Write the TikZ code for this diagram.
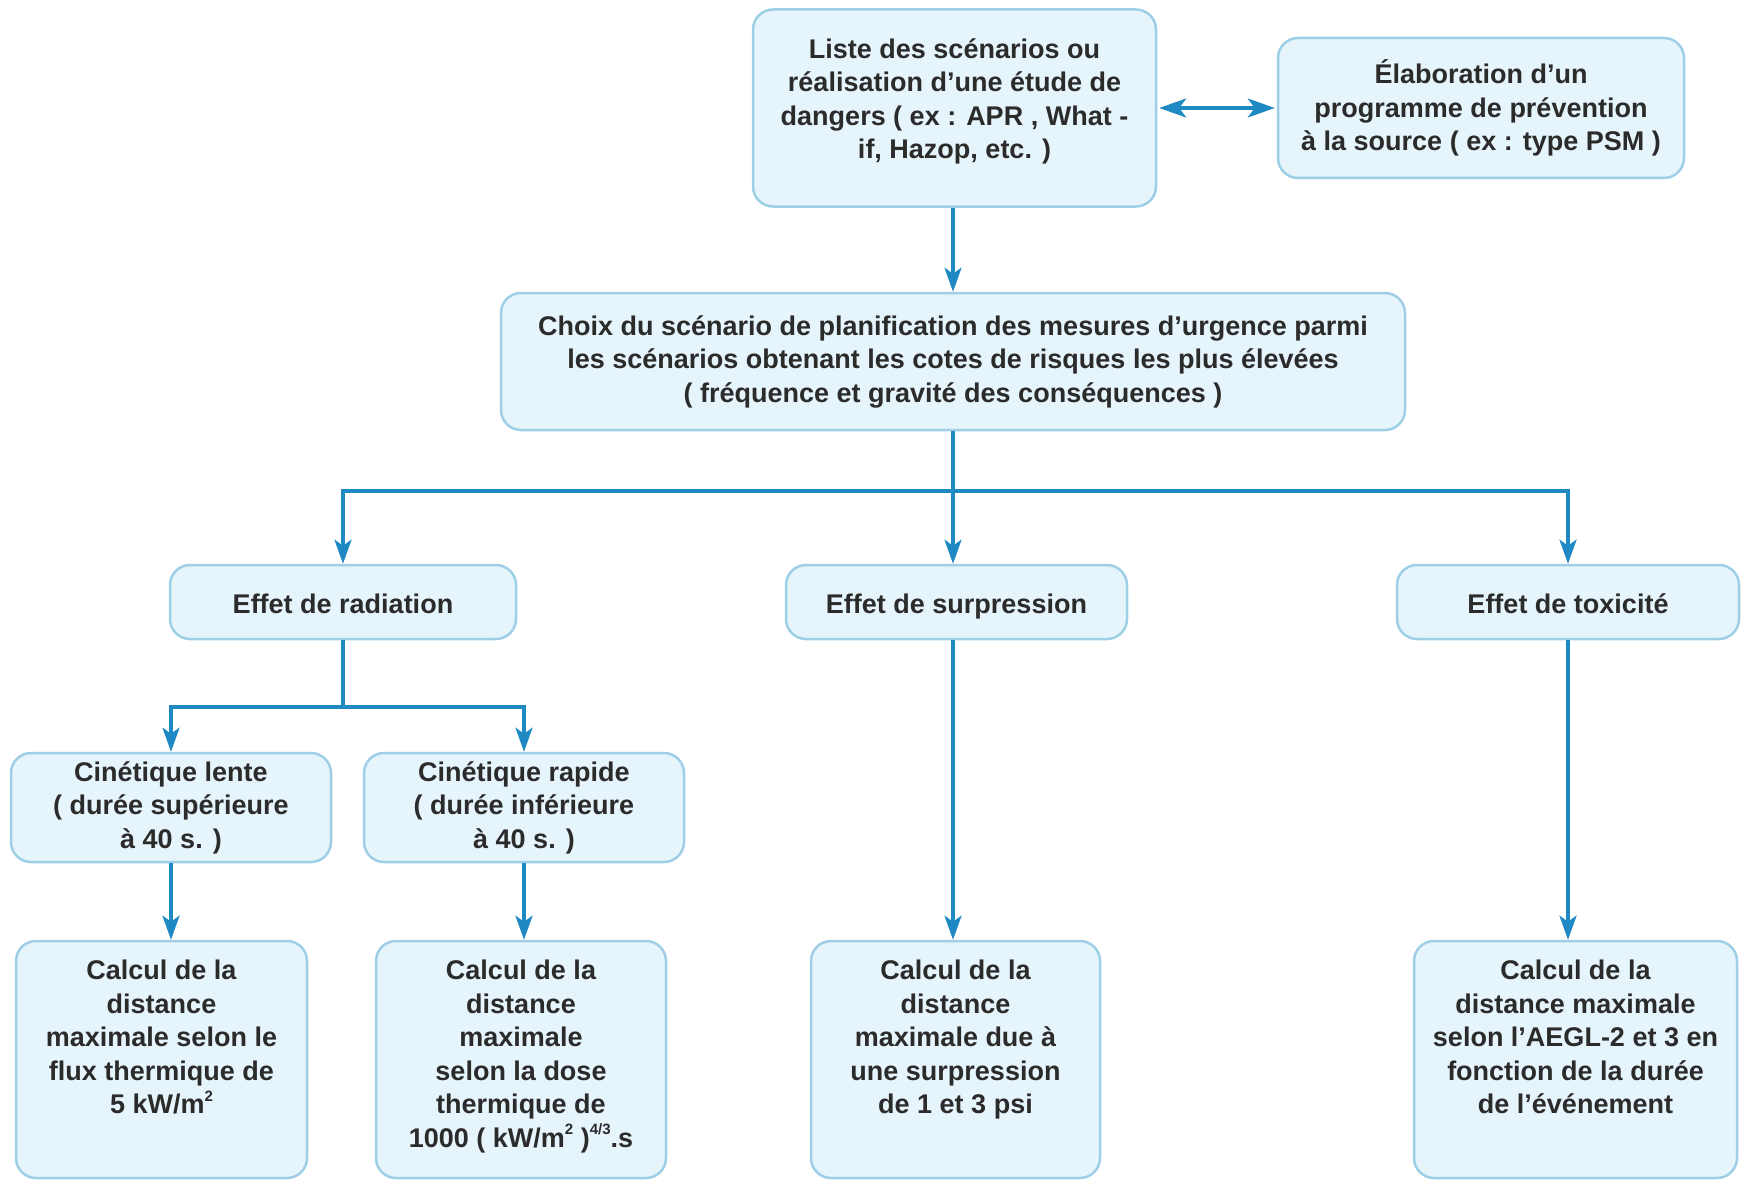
\documentclass[tikz,border=0pt]{standalone}
\usepackage{fontspec}
\setmainfont{Liberation Sans}
\usetikzlibrary{arrows.meta}
\definecolor{boxfill}{HTML}{E6F4FB}
\definecolor{boxline}{HTML}{9ECFE6}
\definecolor{connc}{HTML}{1F89C4}
\definecolor{txtc}{HTML}{2B2B2B}
\newcommand\mysup[1]{\raisebox{0.45em}{\fontsize{15}{15}\selectfont #1}}
\begin{document}
\begin{tikzpicture}[x=1pt,y=-1pt,
  box/.style={draw=boxline, line width=2.5pt, fill=boxfill, rounded corners=20pt, inner sep=0pt,
    text=txtc, font=\fontsize{27}{33.5}\selectfont\bfseries, align=center},
  effbox/.style={box, minimum height=74pt, text height=24pt, text depth=2pt},
  lbl/.style={text=txtc, font=\fontsize{27}{33.5}\selectfont\bfseries, align=center, inner sep=0pt, anchor=north},
  conn/.style={draw=connc, line width=3.5pt},
  arr/.style={conn, -{Stealth[length=24pt,width=17pt,inset=6pt]}},
  darr/.style={conn, {Stealth[length=27pt,width=19pt,inset=7pt]}-{Stealth[length=27pt,width=19pt,inset=7pt]}, shorten <=2pt, shorten >=2pt},
]
\useasboundingbox (0,0) rectangle (1746,1180);

% boxes
\node[box, minimum width=403pt, minimum height=197pt] (liste) at (954.5,108) {};
\node[lbl] (listeT) at ([yshift=-30pt]liste.north)
  {Liste des scénarios ou\\réalisation d’une étude de\\dangers ( ex : APR , What -\\if, Hazop, etc. )};
\node[box, minimum width=406pt, minimum height=140pt] (elab) at (1481,108)
  {Élaboration d’un\\programme de prévention\\à la source ( ex : type PSM )};
\node[box, minimum width=904pt, minimum height=137pt] (choix) at (953,361.5)
  {Choix du scénario de planification des mesures d’urgence parmi\\les scénarios obtenant les cotes de risques les plus élevées\\( fréquence et gravité des conséquences )};

\node[effbox, minimum width=346pt] (rad) at (343,602) {Effet de radiation};
\node[effbox, minimum width=341pt] (surp) at (956.5,602) {Effet de surpression};
\node[effbox, minimum width=342pt] (tox) at (1568,602) {Effet de toxicité};

\node[box, minimum width=320pt, minimum height=109pt] (lente) at (171,807.5)
  {Cinétique lente\\( durée supérieure\\à 40 s. )};
\node[box, minimum width=320pt, minimum height=109pt] (rapide) at (524,807.5)
  {Cinétique rapide\\( durée inférieure\\à 40 s. )};

\node[box, minimum width=291pt, minimum height=237pt] (calcA) at (161.5,1059.5) {};
\node[box, minimum width=290pt, minimum height=237pt] (calcB) at (521,1059.5) {};
\node[box, minimum width=289pt, minimum height=237pt] (calcC) at (955.5,1059.5) {};
\node[box, minimum width=323pt, minimum height=237pt] (calcD) at (1575.5,1059.5) {};

\node[lbl] (calcAT) at ([yshift=-20pt]calcA.north)
  {Calcul de la\\distance\\maximale selon le\\flux thermique de\\5 kW/m\mysup{2}};
\node[lbl] (calcBT) at ([yshift=-20pt]calcB.north)
  {Calcul de la\\distance\\maximale\\selon la dose\\thermique de\\1000 ( kW/m\mysup{2} )\mysup{4/3}.s};
\node[lbl] (calcCT) at ([yshift=-20pt]calcC.north)
  {Calcul de la\\distance\\maximale due à\\une surpression\\de 1 et 3 psi};
\node[lbl] (calcDT) at ([yshift=-20pt]calcD.north)
  {Calcul de la\\distance maximale\\selon l'AEGL-2 et 3 en\\fonction de la durée\\de l'événement};

% connectors
\draw[darr] (liste.east) -- (elab.west);
\draw[arr] (liste.south -| choix.north) -- (choix.north);

\coordinate (jL) at (rad.north |- 0,491);
\coordinate (jM) at (choix.south |- 0,491);
\coordinate (jR) at (tox.north |- 0,491);
\draw[conn] (choix.south) -- (jM);
\draw[conn, line cap=rect] (jL) -- (jR);
\draw[arr] (jL) -- (rad.north);
\draw[arr] (jM) -- (jM |- surp.north);
\draw[arr] (jR) -- (tox.north);

\coordinate (kL) at (lente.north |- 0,707);
\coordinate (kM) at (rad.south |- 0,707);
\coordinate (kR) at (rapide.north |- 0,707);
\draw[conn] (rad.south) -- (kM);
\draw[conn, line cap=rect] (kL) -- (kR);
\draw[arr] (kL) -- (lente.north);
\draw[arr] (kR) -- (rapide.north);

\draw[arr] (lente.south) -- (lente.south |- calcA.north);
\draw[arr] (rapide.south) -- (rapide.south |- calcB.north);
\draw[arr] (surp.south -| jM) -- (jM |- calcC.north);
\draw[arr] (tox.south) -- (tox.south |- calcD.north);
\end{tikzpicture}
\end{document}
